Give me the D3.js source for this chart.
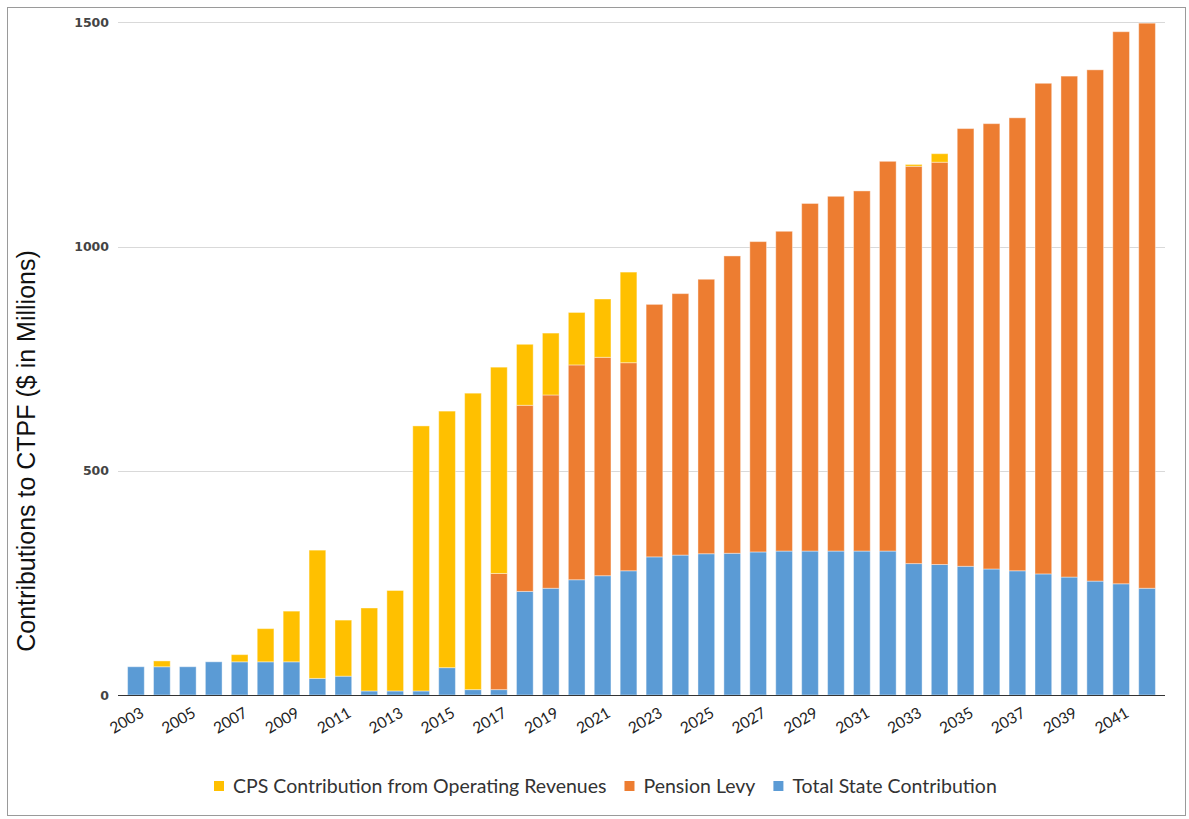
<!DOCTYPE html>
<html>
<head>
<meta charset="utf-8">
<script src="https://cdn.jsdelivr.net/npm/d3@7"></script>
<style>
  html, body { margin: 0; padding: 0; background: #fff; }
  svg { display: block; }
</style>
</head>
<body>
<svg id="chart" width="1189" height="819"></svg>
<script>
// Fiscal years shown on the x axis
const years = d3.range(2003, 2043).map(String);

// Total State Contribution ($ millions)
const stateContribution = [
  63, 63, 63, 74, 74, 74, 74, 37, 42, 9,
  9, 9, 61, 12, 12, 231, 238, 257, 266, 277,
  308, 312, 315, 316, 319, 321, 321, 321, 321, 321,
  293, 291, 287, 281, 277, 270, 263, 254, 248, 238
];

// Pension Levy ($ millions)
const pensionLevy = [
  0, 0, 0, 0, 0, 0, 0, 0, 0, 0,
  0, 0, 0, 0, 259, 415, 431, 479, 487, 464,
  563, 583, 612, 663, 692, 713, 775, 791, 803, 869,
  886, 897, 976, 993, 1010, 1094, 1117, 1140, 1231, 1260
];

// CPS Contribution from Operating Revenues ($ millions)
const cpsOperating = [
  0, 13, 0, 0, 16, 74, 113, 286, 125, 185,
  224, 591, 572, 661, 460, 136, 138, 117, 130, 202,
  0, 0, 0, 0, 0, 0, 0, 0, 0, 0,
  4, 19, 0, 0, 0, 0, 0, 0, 0, 0
];

const yTicks = [0, 500, 1000, 1500];
const seriesKeys = ["state", "levy", "cps"];
const seriesNames = {
  cps: "CPS Contribution from Operating Revenues",
  levy: "Pension Levy",
  state: "Total State Contribution"
};
const legendOrder = ["cps", "levy", "state"];
const colors = { state: "#5B9BD5", levy: "#ED7D31", cps: "#FFC000" };

const rows = years.map((y, i) => ({
  year: y,
  state: stateContribution[i],
  levy: pensionLevy[i],
  cps: cpsOperating[i]
}));

const svg = d3.select("#chart");
const W = 1189, H = 819;

// outer frame
svg.append("rect")
  .attr("x", 7.5).attr("y", 7.5)
  .attr("width", W - 11).attr("height", H - 11)
  .attr("fill", "#fff").attr("stroke", "#9a9a9a").attr("stroke-width", 1);

const plot = { left: 118, right: 1165, top: 22.3, bottom: 695 };

const x = d3.scaleBand()
  .domain(years)
  .range([plot.left, plot.right])
  .paddingInner(0.356)
  .paddingOuter(0.37);

const y = d3.scaleLinear()
  .domain([0, 1500])
  .range([plot.bottom, plot.top]);

// horizontal gridlines
svg.append("g")
  .selectAll("line")
  .data(yTicks.filter(d => d > 0))
  .join("line")
  .attr("x1", plot.left).attr("x2", plot.right)
  .attr("y1", d => Math.round(y(d)) + 0.5)
  .attr("y2", d => Math.round(y(d)) + 0.5)
  .attr("stroke", "#d9d9d9").attr("stroke-width", 1);

// y tick labels
const yAxis = d3.axisLeft(y)
  .tickValues(yTicks)
  .tickFormat(d3.format("d"))
  .tickSize(0)
  .tickPadding(9);
const yG = svg.append("g")
  .attr("transform", `translate(${plot.left},0)`)
  .call(yAxis);
yG.select(".domain").remove();
yG.selectAll("text")
  .attr("font-family", "DejaVu Sans, Verdana, sans-serif")
  .attr("font-size", 12.5)
  .attr("font-weight", "bold")
  .attr("fill", "#444");

// stacked bars
const stack = d3.stack().keys(seriesKeys);
const layers = stack(rows);

svg.append("g")
  .selectAll("g")
  .data(layers)
  .join("g")
  .attr("fill", d => colors[d.key])
  .selectAll("rect")
  .data(d => d.filter(s => s[1] - s[0] > 0))
  .join("rect")
  .attr("x", d => x(d.data.year))
  .attr("width", x.bandwidth())
  .attr("y", d => y(d[1]))
  .attr("height", d => y(d[0]) - y(d[1]))
  .attr("stroke", "rgba(255,255,255,0.4)")
  .attr("stroke-width", 1);

// baseline
svg.append("line")
  .attr("x1", plot.left).attr("x2", plot.right)
  .attr("y1", Math.round(y(0)) + 0.5).attr("y2", Math.round(y(0)) + 0.5)
  .attr("stroke", "#333").attr("stroke-width", 1);

// x tick labels, every other year, slanted
const xAxis = d3.axisBottom(x)
  .tickValues(years.filter((d, i) => i % 2 === 0))
  .tickSize(0);
const xG = svg.append("g")
  .attr("transform", `translate(0,${plot.bottom})`)
  .call(xAxis);
xG.select(".domain").remove();
xG.selectAll("text")
  .attr("font-family", "Lato, Calibri, sans-serif")
  .attr("font-size", 15.5)
  .attr("fill", "#222")
  .attr("text-anchor", "end")
  .attr("dy", null)
  .attr("y", null)
  .attr("transform", "translate(9,21) rotate(-30)");

// y axis title
svg.append("text")
  .attr("transform", `translate(35,${451}) rotate(-90)`)
  .attr("text-anchor", "middle")
  .attr("font-family", "Liberation Sans, Arial, sans-serif")
  .attr("font-size", 25)
  .attr("fill", "#111")
  .text("Contributions to CTPF ($ in Millions)");

// legend
const legend = svg.append("g").attr("transform", "translate(214,786)");
let lx = 0;
legendOrder.forEach(k => {
  const g = legend.append("g").attr("transform", `translate(${lx},0)`);
  g.append("rect")
    .attr("x", 0).attr("y", -5)
    .attr("width", 10).attr("height", 10)
    .attr("fill", colors[k]);
  const t = g.append("text")
    .attr("x", 19).attr("y", 0)
    .attr("dy", "0.35em")
    .attr("font-family", "Lato, Calibri, sans-serif")
    .attr("font-size", 19.5)
    .attr("fill", "#333")
    .text(seriesNames[k]);
  lx += 19 + t.node().getComputedTextLength() + 18;
});
</script>
</body>
</html>
